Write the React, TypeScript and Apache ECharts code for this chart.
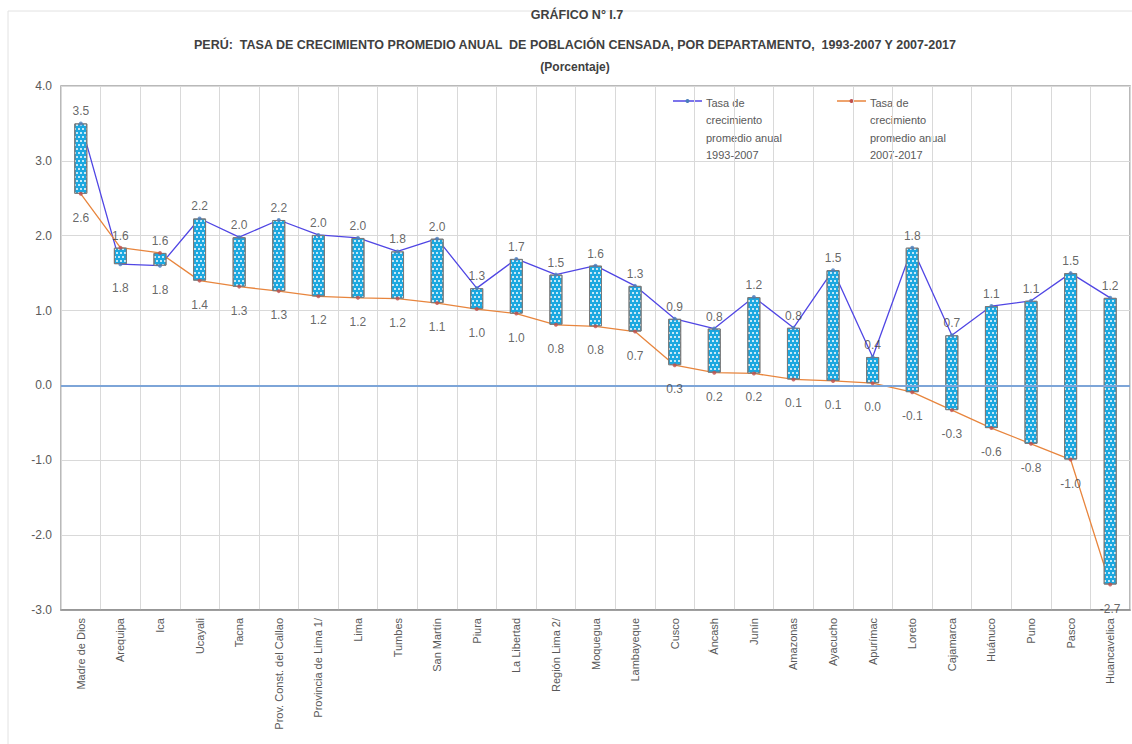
import React, { useEffect, useRef } from "react";
import * as echarts from "echarts";

const categories = [
  "Madre de Dios", "Arequipa", "Ica", "Ucayali", "Tacna", "Prov. Const. del Callao",
  "Provincia de Lima 1/", "Lima", "Tumbes", "San Martín", "Piura", "La Libertad",
  "Región Lima 2/", "Moquegua", "Lambayeque", "Cusco", "Áncash", "Junín", "Amazonas",
  "Ayacucho", "Apurímac", "Loreto", "Cajamarca", "Huánuco", "Puno", "Pasco", "Huancavelica",
];

// Tasa de crecimiento promedio anual 1993-2007
const rate1993 = [
  3.5, 1.62, 1.6, 2.23, 1.98, 2.21, 2.01, 1.97, 1.79, 1.96, 1.3, 1.69, 1.48, 1.6,
  1.33, 0.89, 0.76, 1.18, 0.77, 1.54, 0.38, 1.84, 0.67, 1.06, 1.13, 1.5, 1.17,
];

// Tasa de crecimiento promedio anual 2007-2017
const rate2007 = [
  2.56, 1.84, 1.77, 1.4, 1.32, 1.26, 1.19, 1.17, 1.16, 1.1, 1.02, 0.96, 0.81, 0.79,
  0.72, 0.27, 0.17, 0.16, 0.08, 0.06, 0.03, -0.09, -0.33, -0.57, -0.78, -0.99, -2.66,
];

const yMin = -3;
const yMax = 4;
const yInterval = 1;

const legendNames = [
  "Tasa de\ncrecimiento\npromedio anual\n1993-2007",
  "Tasa de\ncrecimiento\npromedio anual\n2007-2017",
];

const BLUE_LINE = "#5046E4";
const ORANGE_LINE = "#E8853D";
const BLUE_DOT = "#4A7EBB";
const ORANGE_DOT = "#C0504D";
const LABEL_FONT = "'Liberation Sans', Arial, sans-serif";
const NARROW_FONT = "'Liberation Sans Narrow', 'Arial Narrow', 'Liberation Sans', sans-serif";
const PX_PER_UNIT = 74.86;

export default function App() {
  const ref = useRef<HTMLDivElement>(null);

  useEffect(() => {
    if (!ref.current) return;
    const chart = echarts.init(ref.current, undefined, { renderer: "svg" });

    const baseData = categories.map((_, i) => Math.min(rate1993[i], rate2007[i]));
    const rangeData = categories.map((_, i) => Math.abs(rate1993[i] - rate2007[i]));

    const blueLabelData = rate1993.map((v, i) => {
      const o = rate2007[i];
      if (o > v) {
        return { value: v, label: { offset: [0, -(o - v) * PX_PER_UNIT] } };
      }
      return v;
    });
    const orangeLabelData = rate2007.map((v, i) => {
      const b = rate1993[i];
      if (v > b) {
        return { value: v, label: { offset: [0, (v - b) * PX_PER_UNIT] } };
      }
      return v;
    });

    const legendGraphic = (x: number, color: string, dot: string, text: string) => ({
      type: "group",
      children: [
        { type: "line", shape: { x1: x, y1: 101, x2: x + 29, y2: 101 }, style: { stroke: color, lineWidth: 1.5 } },
        { type: "circle", shape: { cx: x + 14.5, cy: 101, r: 2 }, style: { fill: dot } },
        {
          type: "text",
          x: x + 33,
          y: 94,
          style: {
            text,
            fill: "#595959",
            font: `11px ${LABEL_FONT}`,
            lineHeight: 17.5,
            textAlign: "left",
            textVerticalAlign: "top",
          },
        },
      ],
    });

    const option: any = {
      animation: false,
      backgroundColor: "#ffffff",
      grid: {
        left: 61,
        right: 2,
        top: 86,
        bottom: 134,
        show: true,
        borderColor: "#a3a3a3",
        borderWidth: 1.5,
        containLabel: false,
      },
      graphic: [
        {
          type: "rect",
          shape: { x: 8, y: 11, width: 1140, height: 760 },
          style: { fill: "none", stroke: "#e2e2e2", lineWidth: 1 },
          silent: true,
        },
        {
          type: "text",
          x: 577,
          y: 15,
          style: { text: "GRÁFICO N° I.7", fill: "#404040", font: `bold 12.5px ${NARROW_FONT}`, textAlign: "center", textVerticalAlign: "middle" },
        },
        {
          type: "text",
          x: 575,
          y: 45,
          style: {
            text: "PERÚ:  TASA DE CRECIMIENTO PROMEDIO ANUAL  DE POBLACIÓN CENSADA, POR DEPARTAMENTO,  1993-2007 Y 2007-2017",
            fill: "#404040",
            font: `bold 12.5px ${NARROW_FONT}`,
            textAlign: "center",
            textVerticalAlign: "middle",
          },
        },
        {
          type: "text",
          x: 575,
          y: 67,
          style: { text: "(Porcentaje)", fill: "#404040", font: `bold 12px ${NARROW_FONT}`, textAlign: "center", textVerticalAlign: "middle" },
        },
        legendGraphic(673, BLUE_LINE, BLUE_DOT, legendNames[0]),
        legendGraphic(837, ORANGE_LINE, ORANGE_DOT, legendNames[1]),
      ],
      xAxis: {
        type: "category",
        data: categories,
        boundaryGap: true,
        axisLine: { show: true, onZero: false, lineStyle: { color: "#8c8c8c", width: 1.5 } },
        axisTick: { show: false },
        splitLine: { show: true, lineStyle: { color: "#d9d9d9", width: 1 } },
        axisLabel: {
          rotate: 90,
          interval: 0,
          margin: 8,
          fontSize: 11,
          color: "#595959",
          fontFamily: LABEL_FONT,
        },
      },
      yAxis: {
        type: "value",
        min: yMin,
        max: yMax,
        interval: yInterval,
        axisLine: { show: false },
        axisTick: { show: false },
        splitLine: { show: true, lineStyle: { color: "#d9d9d9", width: 1 } },
        axisLabel: {
          formatter: (v: number) => v.toFixed(1),
          fontSize: 12,
          color: "#595959",
          fontFamily: LABEL_FONT,
          margin: 9,
        },
      },
      series: [
        {
          name: "base",
          type: "bar",
          stack: "updown",
          stackStrategy: "all",
          data: baseData,
          barWidth: 13,
          silent: true,
          itemStyle: { color: "rgba(0,0,0,0)" },
          z: 3,
        },
        {
          name: "range",
          type: "bar",
          stack: "updown",
          stackStrategy: "all",
          data: rangeData,
          barWidth: 13,
          silent: true,
          itemStyle: {
            color: "#1BA8E0",
            borderColor: "#7a7a7a",
            borderWidth: 1,
            decal: {
              symbol: "rect",
              symbolSize: 1,
              color: "rgba(255,255,255,0.75)",
              dashArrayX: [[2, 2], [0, 2, 2, 0]],
              dashArrayY: [1.5, 1.5],
              rotation: 0,
            },
          },
          z: 3,
        },
        {
          name: legendNames[0],
          type: "line",
          data: rate1993,
          showSymbol: false,
          lineStyle: { color: BLUE_LINE, width: 1.3 },
          itemStyle: { color: BLUE_LINE },
          z: 2,
          markLine: {
            silent: true,
            symbol: ["none", "none"],
            label: { show: false },
            lineStyle: { color: "#7DA5D8", width: 2, type: "solid" },
            data: [{ yAxis: 0 }],
          },
        },
        {
          name: legendNames[1],
          type: "line",
          data: rate2007,
          showSymbol: false,
          lineStyle: { color: ORANGE_LINE, width: 1.3 },
          itemStyle: { color: ORANGE_LINE },
          z: 2,
        },
        {
          name: "labels1993",
          type: "scatter",
          data: blueLabelData,
          symbolSize: 4,
          itemStyle: { color: BLUE_DOT },
          z: 5,
          label: {
            show: true,
            position: "top",
            distance: 4,
            formatter: (p: any) => Number(p.value).toFixed(1),
            fontSize: 12,
            color: "#404040",
            fontFamily: LABEL_FONT,
          },
        },
        {
          name: "labels2007",
          type: "scatter",
          data: orangeLabelData,
          symbolSize: 4,
          itemStyle: { color: ORANGE_DOT },
          z: 5,
          label: {
            show: true,
            position: "bottom",
            distance: 16,
            formatter: (p: any) => Number(p.value).toFixed(1),
            fontSize: 12,
            color: "#404040",
            fontFamily: LABEL_FONT,
          },
        },
      ],
    };

    chart.setOption(option);
    return () => chart.dispose();
  }, []);

  return (
    <div
      ref={ref}
      style={{ position: "fixed", left: 0, top: 0, width: 1132, height: 744, background: "#fff" }}
    />
  );
}
